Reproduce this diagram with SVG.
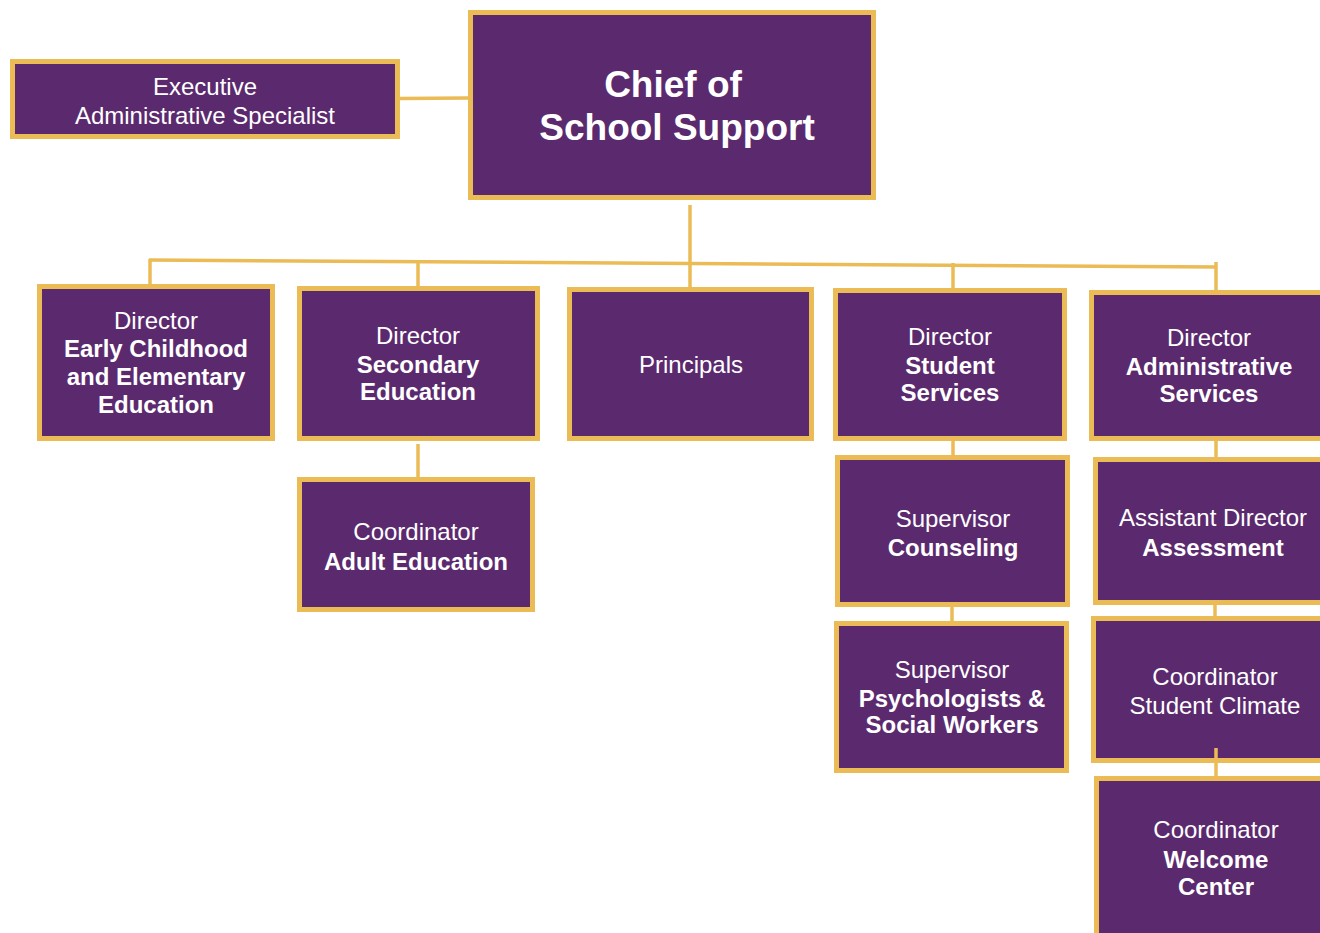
<svg xmlns="http://www.w3.org/2000/svg" width="1320" height="933" viewBox="0 0 1320 933">
<style>
.box{fill:#5b2a6e;stroke:#ebbb56;stroke-width:5}
.ln{stroke:#ebbb56;stroke-width:3.5;fill:none}
text{font-family:"Liberation Sans",Arial,Helvetica,sans-serif;fill:#ffffff;text-anchor:middle;font-size:24px}
.b{font-weight:bold}
.big{font-size:37px;font-weight:bold}
</style>
<rect width="1320" height="933" fill="#ffffff"/>
<g id="exec">
<rect class="box" x="12.5" y="61.5" width="385" height="75"/>
<text x="205" y="95">Executive</text>
<text x="205" y="124">Administrative Specialist</text>
</g>
<g id="chief">
<rect class="box" x="470.5" y="12.5" width="403" height="185"/>
<text class="big" x="673" y="97">Chief of</text>
<text class="big" x="677" y="140">School Support</text>
</g>
<g id="early">
<rect class="box" x="39.5" y="286.5" width="233" height="152"/>
<text x="156" y="329">Director</text>
<text class="b" x="156" y="357">Early Childhood</text>
<text class="b" x="156" y="385">and Elementary</text>
<text class="b" x="156" y="413">Education</text>
</g>
<g id="secondary">
<rect class="box" x="299.5" y="288.5" width="238" height="150"/>
<text x="418" y="344">Director</text>
<text class="b" x="418" y="373">Secondary</text>
<text class="b" x="418" y="400">Education</text>
</g>
<g id="principals">
<rect class="box" x="569.5" y="289.5" width="242" height="149"/>
<text x="691" y="373">Principals</text>
</g>
<g id="student">
<rect class="box" x="835.5" y="290.5" width="229" height="148"/>
<text x="950" y="345">Director</text>
<text class="b" x="950" y="374">Student</text>
<text class="b" x="950" y="401">Services</text>
</g>
<g id="admin">
<rect class="box" x="1091.5" y="292.5" width="250" height="146"/>
<text x="1209" y="346">Director</text>
<text class="b" x="1209" y="375">Administrative</text>
<text class="b" x="1209" y="402">Services</text>
</g>
<g id="adult">
<rect class="box" x="299.5" y="479.5" width="233" height="130"/>
<text x="416" y="540">Coordinator</text>
<text class="b" x="416" y="570">Adult Education</text>
</g>
<g id="counseling">
<rect class="box" x="837.5" y="457.5" width="230" height="147"/>
<text x="953" y="527">Supervisor</text>
<text class="b" x="953" y="556">Counseling</text>
</g>
<g id="psych">
<rect class="box" x="836.5" y="623.5" width="230" height="147"/>
<text x="952" y="678">Supervisor</text>
<text class="b" x="952" y="707">Psychologists &amp;</text>
<text class="b" x="952" y="733">Social Workers</text>
</g>
<g id="assessment">
<rect class="box" x="1095.5" y="459.5" width="250" height="143"/>
<text x="1213" y="526">Assistant Director</text>
<text class="b" x="1213" y="556">Assessment</text>
</g>
<g id="climate">
<rect class="box" x="1093.5" y="618.5" width="250" height="142"/>
<text x="1215" y="685">Coordinator</text>
<text x="1215" y="714">Student Climate</text>
</g>
<g id="welcome">
<rect class="box" x="1096.5" y="778.5" width="250" height="200"/>
<text x="1216" y="838">Coordinator</text>
<text class="b" x="1216" y="868">Welcome</text>
<text class="b" x="1216" y="895">Center</text>
</g>
<g id="connectors">
<line class="ln" x1="400" y1="98.5" x2="468" y2="98"/>
<line class="ln" x1="690" y1="205" x2="690" y2="287"/>
<line class="ln" x1="149" y1="260" x2="1216" y2="267"/>
<line class="ln" x1="150" y1="259" x2="150" y2="284"/>
<line class="ln" x1="418" y1="260" x2="418" y2="286"/>
<line class="ln" x1="953" y1="263" x2="953" y2="288"/>
<line class="ln" x1="1216" y1="262" x2="1216" y2="290"/>
<line class="ln" x1="418" y1="444" x2="418" y2="477"/>
<line class="ln" x1="953" y1="441" x2="953" y2="455"/>
<line class="ln" x1="952" y1="607" x2="952" y2="621"/>
<line class="ln" x1="1216" y1="441" x2="1216" y2="457"/>
<line class="ln" x1="1215" y1="605" x2="1215" y2="616"/>
<line class="ln" x1="1216" y1="748" x2="1216" y2="776"/>
</g>
</svg>
